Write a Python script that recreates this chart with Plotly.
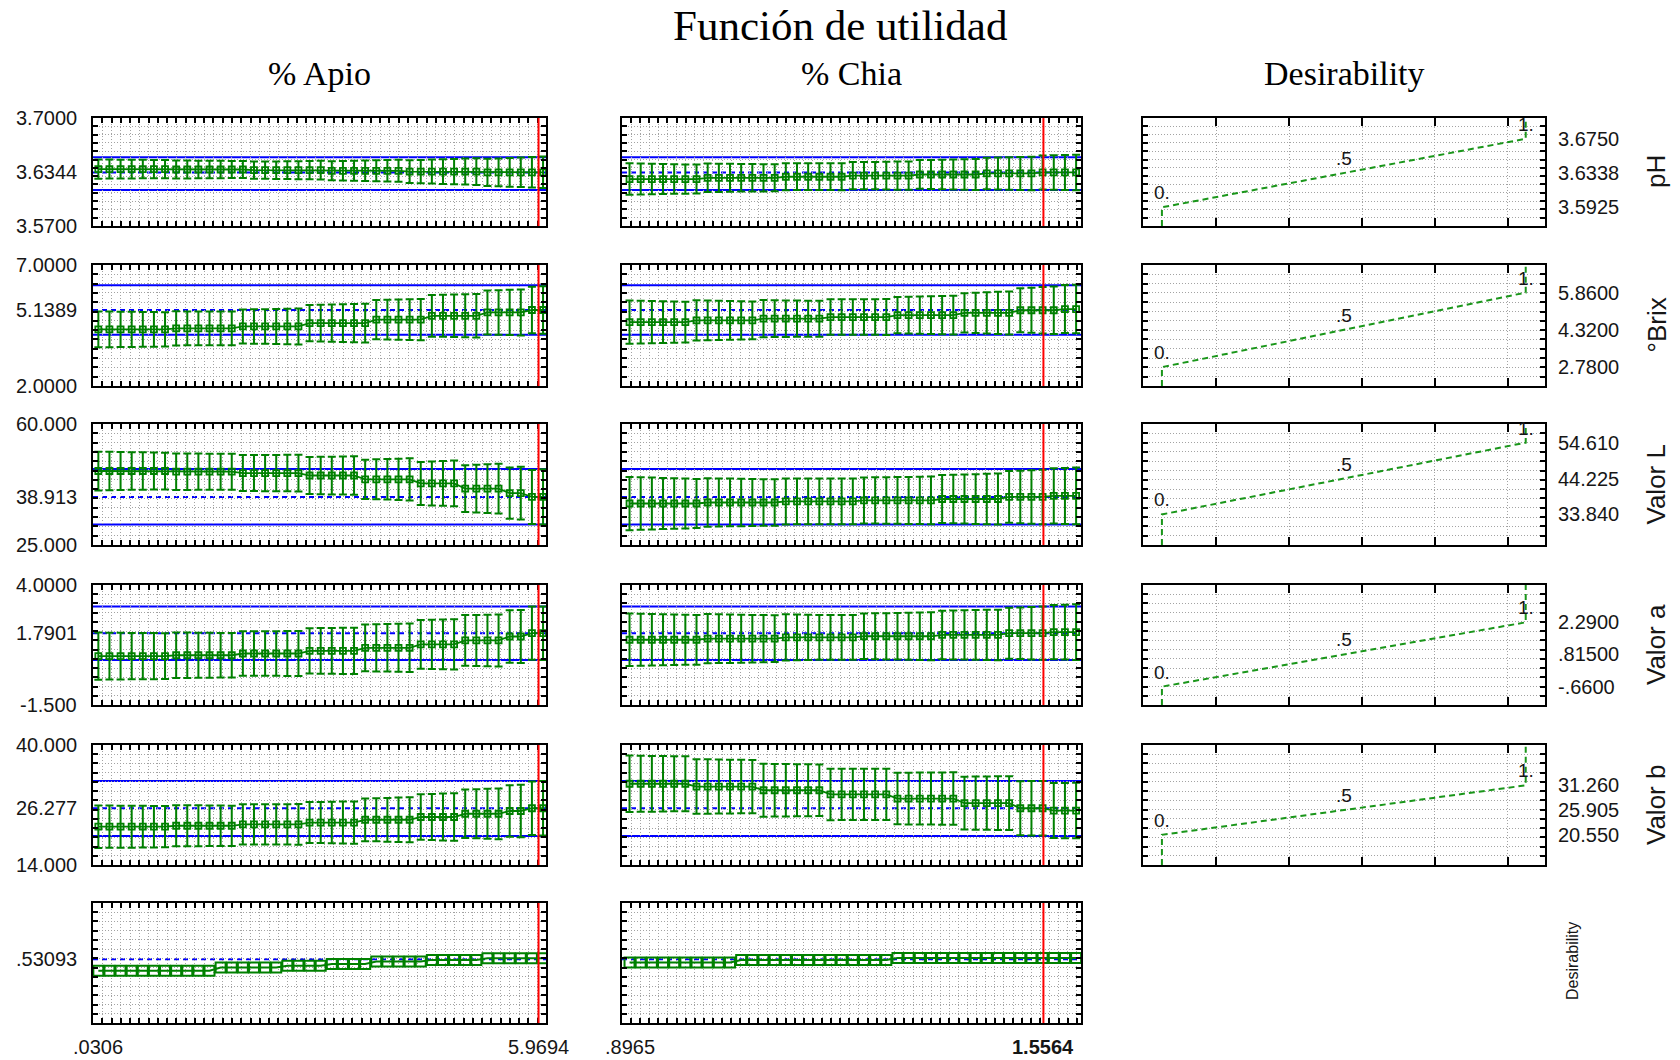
import plotly.graph_objects as go

# ---------------------------------------------------------------- data
RESPONSES = ["pH", "°Brix", "Valor L", "Valor a", "Valor b"]
FACTORS = ["% Apio", "% Chia"]

# axis range of every response row (last row = overall desirability)
Y_RANGES = [[3.57, 3.70], [2.0, 7.0], [25.0, 60.0], [-1.5, 4.0], [14.0, 40.0], [0.0, 1.0]]
LEFT_TICKS = [["3.7000", "3.6344", "3.5700"],
              ["7.0000", "5.1389", "2.0000"],
              ["60.000", "38.913", "25.000"],
              ["4.0000", "1.7901", "-1.500"],
              ["40.000", "26.277", "14.000"],
              [".53093"]]
# predicted value at the current factor setting and its confidence limits
CURRENT_VALUES = [3.6344, 5.1389, 38.913, 1.7901, 26.277, 0.53093]
CURRENT_CI = [[3.6133, 3.6527], [4.12, 6.16], [30.9, 47.0], [0.56, 3.02], [20.3, 32.2]]

# desirability specification (response value for d = 0, .5, 1)
DES_LEVELS = [0.0, 0.5, 1.0]
DES_LEVEL_LABELS = ["0.", ".5", "1."]
DES_SPEC = [[3.5925, 3.6338, 3.6750],
            [2.78, 4.32, 5.86],
            [33.84, 44.225, 54.61],
            [-0.66, 0.815, 2.29],
            [20.55, 25.905, 31.26]]
DES_SPEC_LABELS = [["3.5925", "3.6338", "3.6750"],
                   ["2.7800", "4.3200", "5.8600"],
                   ["33.840", "44.225", "54.610"],
                   ["-.6600", ".81500", "2.2900"],
                   ["20.550", "25.905", "31.260"]]

# factor grids
APIO_X = [0.03, 0.18, 0.33, 0.48, 0.63, 0.78, 0.93, 1.08, 1.23, 1.38, 1.53, 1.68, 1.83, 1.98,
          2.13, 2.28, 2.43, 2.58, 2.73, 2.88, 3.03, 3.18, 3.33, 3.48, 3.63, 3.78, 3.93, 4.08,
          4.23, 4.38, 4.53, 4.68, 4.83, 4.98, 5.13, 5.28, 5.43, 5.58, 5.73, 5.88, 6.03]
CHIA_X = [0.8965, 0.9143, 0.9321, 0.9499, 0.9677, 0.9855, 1.0033, 1.0211, 1.0389, 1.0567,
          1.0745, 1.0923, 1.1101, 1.1279, 1.1457, 1.1635, 1.1813, 1.1991, 1.2169, 1.2347,
          1.2525, 1.2703, 1.2881, 1.3059, 1.3237, 1.3415, 1.3593, 1.3771, 1.3949, 1.4127,
          1.4305, 1.4483, 1.4661, 1.4839, 1.5017, 1.5195, 1.5373, 1.5551, 1.5729, 1.5907, 1.6085]
FACTOR_NOW = [5.9694, 1.5564]
X_TICK_VALUES = [[0.0306, 5.9694], [0.8965, 1.5564]]
X_TICK_LABELS = [[".0306", "5.9694"], [".8965", "1.5564"]]

# predicted means and confidence half-widths along each factor
PH_APIO_MEAN = [3.6385, 3.6385, 3.6385, 3.6385, 3.6385, 3.6385, 3.6385,
                3.6380, 3.6380, 3.6380, 3.6380, 3.6380, 3.6380, 3.6380,
                3.6372, 3.6372, 3.6372, 3.6372, 3.6372, 3.6372, 3.6372,
                3.6364, 3.6364, 3.6364, 3.6364, 3.6364, 3.6364, 3.6364,
                3.6355, 3.6355, 3.6355, 3.6355, 3.6355, 3.6355, 3.6355,
                3.6346, 3.6346, 3.6346, 3.6346, 3.6346, 3.6346]
PH_APIO_HALF = [0.0115, 0.0114, 0.0113, 0.0112, 0.0111, 0.0110, 0.0109, 0.0108, 0.0107, 0.0106,
                0.0105, 0.0104, 0.0103, 0.0103, 0.0103, 0.0104, 0.0105, 0.0106, 0.0108, 0.0110,
                0.0112, 0.0114, 0.0117, 0.0120, 0.0123, 0.0126, 0.0129, 0.0132, 0.0136, 0.0140,
                0.0144, 0.0148, 0.0152, 0.0156, 0.0160, 0.0164, 0.0168, 0.0173, 0.0178, 0.0184,
                0.0190]
PH_CHIA_MEAN = [3.6265, 3.6265, 3.6265, 3.6265, 3.6265, 3.6265, 3.6265,
                3.6280, 3.6280, 3.6280, 3.6280, 3.6280, 3.6280, 3.6280,
                3.6293, 3.6293, 3.6293, 3.6293, 3.6293, 3.6293,
                3.6306, 3.6306, 3.6306, 3.6306, 3.6306, 3.6306,
                3.6320, 3.6320, 3.6320, 3.6320, 3.6320, 3.6320,
                3.6333, 3.6333, 3.6333, 3.6333, 3.6333,
                3.6345, 3.6345, 3.6345, 3.6345]
PH_CHIA_HALF = [0.0190, 0.0187, 0.0184, 0.0181, 0.0178, 0.0176, 0.0174, 0.0172, 0.0170, 0.0168,
                0.0166, 0.0165, 0.0164, 0.0163, 0.0162, 0.0161, 0.0161, 0.0161, 0.0161, 0.0162,
                0.0163, 0.0164, 0.0165, 0.0167, 0.0169, 0.0171, 0.0173, 0.0175, 0.0178, 0.0181,
                0.0184, 0.0187, 0.0190, 0.0193, 0.0196, 0.0199, 0.0202, 0.0205, 0.0208, 0.0211,
                0.0214]

BRIX_APIO_MEAN = [4.34, 4.34, 4.34, 4.34, 4.34, 4.34, 4.34,
                  4.38, 4.38, 4.38, 4.38, 4.38, 4.38,
                  4.46, 4.46, 4.46, 4.46, 4.46, 4.46,
                  4.60, 4.60, 4.60, 4.60, 4.60, 4.60,
                  4.74, 4.74, 4.74, 4.74, 4.74,
                  4.90, 4.90, 4.90, 4.90, 4.90,
                  5.04, 5.04, 5.04, 5.04,
                  5.14, 5.14]
BRIX_APIO_HALF = [0.74, 0.735, 0.73, 0.725, 0.72, 0.715, 0.71, 0.705, 0.70, 0.70,
                  0.70, 0.70, 0.70, 0.705, 0.71, 0.715, 0.72, 0.73, 0.74, 0.75,
                  0.76, 0.77, 0.78, 0.79, 0.80, 0.81, 0.82, 0.83, 0.84, 0.85,
                  0.86, 0.87, 0.88, 0.89, 0.90, 0.91, 0.92, 0.935, 0.95, 0.965,
                  0.98]
BRIX_CHIA_MEAN = [4.64, 4.64, 4.64, 4.64, 4.64, 4.64,
                  4.71, 4.71, 4.71, 4.71, 4.71, 4.71,
                  4.78, 4.78, 4.78, 4.78, 4.78, 4.78,
                  4.85, 4.85, 4.85, 4.85, 4.85, 4.85,
                  4.93, 4.93, 4.93, 4.93, 4.93, 4.93,
                  5.02, 5.02, 5.02, 5.02, 5.02,
                  5.13, 5.13, 5.13, 5.13,
                  5.18, 5.18]
BRIX_CHIA_HALF = [0.89, 0.88, 0.87, 0.86, 0.85, 0.84, 0.83, 0.82, 0.81, 0.80,
                  0.79, 0.78, 0.77, 0.76, 0.755, 0.75, 0.745, 0.74, 0.735, 0.73,
                  0.73, 0.73, 0.735, 0.74, 0.75, 0.76, 0.77, 0.78, 0.79, 0.80,
                  0.81, 0.83, 0.85, 0.87, 0.89, 0.91, 0.93, 0.96, 0.98, 0.99,
                  1.00]

LVAL_APIO_MEAN = [46.4, 46.4, 46.4, 46.4, 46.4, 46.4, 46.4,
                  46.2, 46.2, 46.2, 46.2, 46.2, 46.2,
                  45.8, 45.8, 45.8, 45.8, 45.8, 45.8,
                  45.1, 45.1, 45.1, 45.1, 45.1,
                  44.0, 44.0, 44.0, 44.0, 44.0,
                  42.8, 42.8, 42.8, 42.8,
                  41.3, 41.3, 41.3, 41.3,
                  40.0, 40.0,
                  38.9, 38.9]
LVAL_APIO_HALF = [5.6, 5.55, 5.5, 5.45, 5.4, 5.36, 5.32, 5.29, 5.26, 5.24,
                  5.22, 5.2, 5.2, 5.2, 5.2, 5.22, 5.25, 5.28, 5.32, 5.36,
                  5.4, 5.46, 5.52, 5.6, 5.68, 5.77, 5.87, 5.98, 6.1, 6.22,
                  6.35, 6.48, 6.62, 6.76, 6.9, 7.05, 7.2, 7.4, 7.6, 7.8,
                  8.0]
LVAL_CHIA_MEAN = [37.0, 37.0, 37.0, 37.0, 37.0, 37.0, 37.0,
                  37.3, 37.3, 37.3, 37.3, 37.3, 37.3, 37.3,
                  37.6, 37.6, 37.6, 37.6, 37.6, 37.6, 37.6,
                  37.9, 37.9, 37.9, 37.9, 37.9, 37.9, 37.9,
                  38.3, 38.3, 38.3, 38.3, 38.3, 38.3,
                  38.9, 38.9, 38.9, 38.9,
                  39.2, 39.2, 39.2]
LVAL_CHIA_HALF = [7.7, 7.6, 7.5, 7.4, 7.3, 7.2, 7.1, 7.0, 6.95, 6.9,
                  6.85, 6.8, 6.75, 6.7, 6.65, 6.6, 6.6, 6.6, 6.6, 6.6,
                  6.62, 6.65, 6.68, 6.72, 6.76, 6.8, 6.85, 6.9, 6.96, 7.02,
                  7.1, 7.2, 7.3, 7.4, 7.5, 7.6, 7.75, 7.9, 8.0, 8.1,
                  8.2]

AVAL_APIO_MEAN = [0.74, 0.74, 0.74, 0.74, 0.74, 0.74, 0.74,
                  0.78, 0.78, 0.78, 0.78, 0.78, 0.78,
                  0.86, 0.86, 0.86, 0.86, 0.86, 0.86,
                  0.98, 0.98, 0.98, 0.98, 0.98,
                  1.12, 1.12, 1.12, 1.12, 1.12,
                  1.28, 1.28, 1.28, 1.28,
                  1.46, 1.46, 1.46, 1.46,
                  1.64, 1.64,
                  1.79, 1.79]
AVAL_APIO_HALF = [1.08, 1.075, 1.07, 1.065, 1.06, 1.055, 1.05, 1.045, 1.04, 1.035,
                  1.03, 1.025, 1.02, 1.02, 1.02, 1.02, 1.025, 1.03, 1.035, 1.04,
                  1.045, 1.05, 1.055, 1.06, 1.07, 1.08, 1.09, 1.10, 1.11, 1.12,
                  1.13, 1.14, 1.15, 1.16, 1.17, 1.18, 1.19, 1.20, 1.21, 1.22,
                  1.23]
AVAL_CHIA_MEAN = [1.49, 1.49, 1.49, 1.49, 1.49, 1.49, 1.49,
                  1.54, 1.54, 1.54, 1.54, 1.54, 1.54, 1.54,
                  1.60, 1.60, 1.60, 1.60, 1.60, 1.60, 1.60,
                  1.65, 1.65, 1.65, 1.65, 1.65, 1.65, 1.65,
                  1.71, 1.71, 1.71, 1.71, 1.71, 1.71,
                  1.79, 1.79, 1.79, 1.79,
                  1.84, 1.84, 1.84]
AVAL_CHIA_HALF = [1.20, 1.19, 1.18, 1.17, 1.16, 1.15, 1.14, 1.13, 1.12, 1.11,
                  1.10, 1.09, 1.08, 1.07, 1.06, 1.05, 1.04, 1.03, 1.03, 1.03,
                  1.03, 1.04, 1.05, 1.06, 1.07, 1.08, 1.09, 1.10, 1.11, 1.12,
                  1.13, 1.14, 1.15, 1.16, 1.17, 1.18, 1.20, 1.22, 1.24, 1.26,
                  1.28]

BVAL_APIO_MEAN = [22.3, 22.3, 22.3, 22.3, 22.3, 22.3, 22.3,
                  22.5, 22.5, 22.5, 22.5, 22.5, 22.5,
                  22.8, 22.8, 22.8, 22.8, 22.8, 22.8,
                  23.2, 23.2, 23.2, 23.2, 23.2,
                  23.8, 23.8, 23.8, 23.8, 23.8,
                  24.4, 24.4, 24.4, 24.4,
                  25.1, 25.1, 25.1, 25.1,
                  25.7, 25.7,
                  26.3, 26.3]
BVAL_APIO_HALF = [4.6, 4.58, 4.56, 4.54, 4.52, 4.5, 4.48, 4.46, 4.44, 4.42,
                  4.4, 4.38, 4.36, 4.35, 4.35, 4.35, 4.36, 4.38, 4.4, 4.43,
                  4.46, 4.5, 4.54, 4.58, 4.63, 4.68, 4.74, 4.8, 4.86, 4.93,
                  5.0, 5.08, 5.16, 5.24, 5.32, 5.41, 5.5, 5.6, 5.7, 5.8,
                  5.9]
BVAL_CHIA_MEAN = [31.6, 31.6, 31.6, 31.6, 31.6, 31.6,
                  31.0, 31.0, 31.0, 31.0, 31.0, 31.0,
                  30.2, 30.2, 30.2, 30.2, 30.2, 30.2,
                  29.3, 29.3, 29.3, 29.3, 29.3, 29.3,
                  28.4, 28.4, 28.4, 28.4, 28.4, 28.4,
                  27.4, 27.4, 27.4, 27.4, 27.4,
                  26.3, 26.3, 26.3,
                  25.8, 25.8, 25.8]
BVAL_CHIA_HALF = [6.1, 6.07, 6.04, 6.01, 5.98, 5.95, 5.92, 5.89, 5.86, 5.83,
                  5.8, 5.77, 5.74, 5.71, 5.68, 5.65, 5.62, 5.6, 5.58, 5.56,
                  5.55, 5.55, 5.55, 5.56, 5.58, 5.6, 5.62, 5.64, 5.66, 5.69,
                  5.72, 5.75, 5.78, 5.81, 5.84, 5.87, 5.9, 5.92, 5.95, 5.98,
                  6.0]

# overall desirability along each factor
DES_APIO = [0.435, 0.435, 0.435, 0.435, 0.435, 0.435, 0.435, 0.435, 0.435, 0.435, 0.435,
            0.462, 0.462, 0.462, 0.462, 0.462, 0.462,
            0.478, 0.478, 0.478, 0.478,
            0.492, 0.492, 0.492, 0.492,
            0.512, 0.512, 0.512, 0.512, 0.512,
            0.526, 0.526, 0.526, 0.526, 0.526,
            0.540, 0.540, 0.540, 0.540, 0.540, 0.540]
DES_CHIA = [0.505, 0.505, 0.505, 0.505, 0.505, 0.505, 0.505, 0.505, 0.505, 0.505,
            0.525, 0.525, 0.525, 0.525, 0.525, 0.525, 0.525, 0.525, 0.525, 0.525, 0.525,
            0.525, 0.525, 0.525,
            0.542, 0.542, 0.542, 0.542, 0.542, 0.542, 0.542, 0.542, 0.542, 0.542, 0.542,
            0.542, 0.542, 0.542, 0.542, 0.542, 0.542]

PROFILE_X = [APIO_X, CHIA_X]
PROFILE_MEAN = [[PH_APIO_MEAN, PH_CHIA_MEAN], [BRIX_APIO_MEAN, BRIX_CHIA_MEAN],
                [LVAL_APIO_MEAN, LVAL_CHIA_MEAN], [AVAL_APIO_MEAN, AVAL_CHIA_MEAN],
                [BVAL_APIO_MEAN, BVAL_CHIA_MEAN]]
PROFILE_HALF = [[PH_APIO_HALF, PH_CHIA_HALF], [BRIX_APIO_HALF, BRIX_CHIA_HALF],
                [LVAL_APIO_HALF, LVAL_CHIA_HALF], [AVAL_APIO_HALF, AVAL_CHIA_HALF],
                [BVAL_APIO_HALF, BVAL_CHIA_HALF]]
DESIRABILITY = [DES_APIO, DES_CHIA]

# ---------------------------------------------------------------- layout
W, H = 1680, 1060
COLS_PX = [(93, 546), (622, 1081), (1143, 1545)]
ROWS_PX = [(118, 226), (265, 386), (424, 545), (585, 705), (745, 865), (903, 1023)]
X_RANGES = [[-0.042, 6.07], [0.8845, 1.6163], [-0.052, 1.053]]
X_DTICK = [0.125, 0.0145]
DES_GRID = [0.15, 0.35, 0.55, 0.75, 0.95]

GREEN = "#008000"
DGREEN = "#1a961a"
BLUE = "#0000ff"
RED = "#ff0000"
TXT = "#161616"
SANS = "Liberation Sans, Arial, sans-serif"
SERIF = "Liberation Serif, Times New Roman, serif"
GRID = dict(showgrid=True, gridcolor="#a3a3a3", gridwidth=1, griddash="1px,2px")
FRAME = dict(showline=True, linecolor="black", linewidth=2, mirror="ticks",
             ticks="inside", tickcolor="black", showticklabels=False,
             zeroline=False, fixedrange=True)


def px_x(p):
    return p / W


def px_y(p):
    return 1 - p / H


fig = go.Figure()
layout = {}
shapes = []
annotations = []
axis_no = [0]


def new_axes(col, row):
    axis_no[0] += 1
    n = axis_no[0]
    sfx = "" if n == 1 else str(n)
    x0, x1 = COLS_PX[col]
    y0, y1 = ROWS_PX[row]
    lo, hi = Y_RANGES[row]
    xa = dict(domain=[px_x(x0), px_x(x1)], range=X_RANGES[col], anchor="y" + sfx,
              **FRAME, **GRID)
    if col < 2:
        xa.update(tickmode="linear", tick0=X_RANGES[col][0], dtick=X_DTICK[col],
                  ticklen=5, tickwidth=1.5)
    else:
        xa.update(tickmode="array", tickvals=DES_GRID, ticklen=8, tickwidth=2)
    ya = dict(domain=[px_y(y1), px_y(y0)], range=[lo, hi], anchor="x" + sfx,
              tickmode="linear", tick0=lo, dtick=(hi - lo) / 13,
              ticklen=5, tickwidth=1.5, **FRAME, **GRID)
    layout["xaxis" + sfx] = xa
    layout["yaxis" + sfx] = ya
    return "x" + sfx, "y" + sfx


def hline(xr, yr, v, dash="solid"):
    shapes.append(dict(type="line", xref=xr + " domain", yref=yr, x0=0, x1=1,
                       y0=v, y1=v, layer="below",
                       line=dict(color=BLUE, width=2, dash=dash)))


# profile panels (two factor columns)
for row in range(6):
    y0, y1 = ROWS_PX[row]
    for col in range(2):
        xr, yr = new_axes(col, row)
        xs = PROFILE_X[col]
        if row < 5:
            # confidence limits and prediction at the current setting
            for v in CURRENT_CI[row]:
                hline(xr, yr, v)
            hline(xr, yr, CURRENT_VALUES[row], "5px,4px")
            fig.add_trace(go.Scatter(
                x=xs, y=PROFILE_MEAN[row][col], xaxis=xr, yaxis=yr,
                mode="lines+markers", showlegend=False, hoverinfo="skip",
                line=dict(color=GREEN, width=1.8),
                marker=dict(symbol="square-open", size=6, color=GREEN, line=dict(width=1.8)),
                error_y=dict(type="data", array=PROFILE_HALF[row][col], visible=True,
                             color=GREEN, thickness=2, width=4)))
        else:
            hline(xr, yr, CURRENT_VALUES[row], "5px,4px")
            fig.add_trace(go.Scatter(
                x=xs, y=DESIRABILITY[col], xaxis=xr, yaxis=yr,
                mode="lines+markers", showlegend=False, hoverinfo="skip",
                line=dict(color=GREEN, width=2),
                marker=dict(symbol="square-open", size=10, color=GREEN, line=dict(width=2))))
        # current factor setting
        shapes.append(dict(type="line", xref=xr, yref=yr + " domain",
                           x0=FACTOR_NOW[col], x1=FACTOR_NOW[col], y0=0, y1=1, layer="above",
                           line=dict(color=RED, width=2)))
        if row == 5:
            for k, (v, t) in enumerate(zip(X_TICK_VALUES[col], X_TICK_LABELS[col])):
                txt = "<b>" + t + "</b>" if (col == 1 and k == 1) else t
                annotations.append(dict(xref=xr, yref="paper", x=v, y=px_y(1047), text=txt,
                                        showarrow=False, xanchor="center", yanchor="middle",
                                        font=dict(family=SANS, size=20, color=TXT)))
    # left tick labels of the row
    lo, hi = Y_RANGES[row]
    if row < 5:
        label_vals = [hi, CURRENT_VALUES[row], lo]
    else:
        label_vals = [CURRENT_VALUES[row]]
    for v, t in zip(label_vals, LEFT_TICKS[row]):
        frac = (v - lo) / (hi - lo)
        ypx = y1 - frac * (y1 - y0)
        annotations.append(dict(xref="paper", yref="paper", x=px_x(79), y=px_y(ypx), text=t,
                                showarrow=False, xanchor="right", yanchor="middle",
                                font=dict(family=SANS, size=20, color=TXT)))

# desirability function panels
for row in range(5):
    xr, yr = new_axes(2, row)
    lo, hi = Y_RANGES[row]
    d_lo, d_mid, d_hi = DES_SPEC[row]
    fig.add_trace(go.Scatter(
        x=[DES_LEVELS[0], DES_LEVELS[0], DES_LEVELS[2], DES_LEVELS[2]],
        y=[lo, d_lo, d_hi, hi], xaxis=xr, yaxis=yr, mode="lines",
        showlegend=False, hoverinfo="skip",
        line=dict(color=DGREEN, width=2, dash="6px,4px")))
    for lev, lab, val in zip(DES_LEVELS, DES_LEVEL_LABELS, DES_SPEC[row]):
        annotations.append(dict(xref=xr, yref=yr, x=lev, y=val, text=lab, showarrow=False,
                                xanchor="center", yanchor="bottom", yshift=2,
                                font=dict(family=SANS, size=19, color=TXT)))
    for val, lab in zip(DES_SPEC[row], DES_SPEC_LABELS[row]):
        annotations.append(dict(xref="paper", yref=yr, x=px_x(1556), y=val, text=lab,
                                showarrow=False, xanchor="left", yanchor="middle",
                                font=dict(family=SANS, size=20, color=TXT)))
    y0, y1 = ROWS_PX[row]
    annotations.append(dict(xref="paper", yref="paper", x=px_x(1656), y=px_y((y0 + y1) / 2),
                            text=RESPONSES[row], showarrow=False, textangle=-90,
                            xanchor="center", yanchor="middle",
                            font=dict(family=SANS, size=26, color=TXT)))

annotations.append(dict(xref="paper", yref="paper", x=px_x(1572), y=px_y(961),
                        text="Desirability", showarrow=False, textangle=-90,
                        xanchor="center", yanchor="middle",
                        font=dict(family=SANS, size=16, color=TXT)))

# titles
annotations.append(dict(xref="paper", yref="paper", x=px_x(840), y=px_y(26),
                        text="Función de utilidad", showarrow=False,
                        xanchor="center", yanchor="middle",
                        font=dict(family=SERIF, size=43, color="black")))
for col, name in enumerate(FACTORS + ["Desirability"]):
    x0, x1 = COLS_PX[col]
    annotations.append(dict(xref="paper", yref="paper", x=px_x((x0 + x1) / 2), y=px_y(74),
                            text=name, showarrow=False, xanchor="center", yanchor="middle",
                            font=dict(family=SERIF, size=34, color="black")))

fig.update_layout(
    width=W, height=H, autosize=False,
    margin=dict(l=0, r=0, t=0, b=0),
    paper_bgcolor="white", plot_bgcolor="white",
    showlegend=False,
    shapes=shapes, annotations=annotations,
    **layout,
)

fig.write_html("out.html", config={"displayModeBar": False})
